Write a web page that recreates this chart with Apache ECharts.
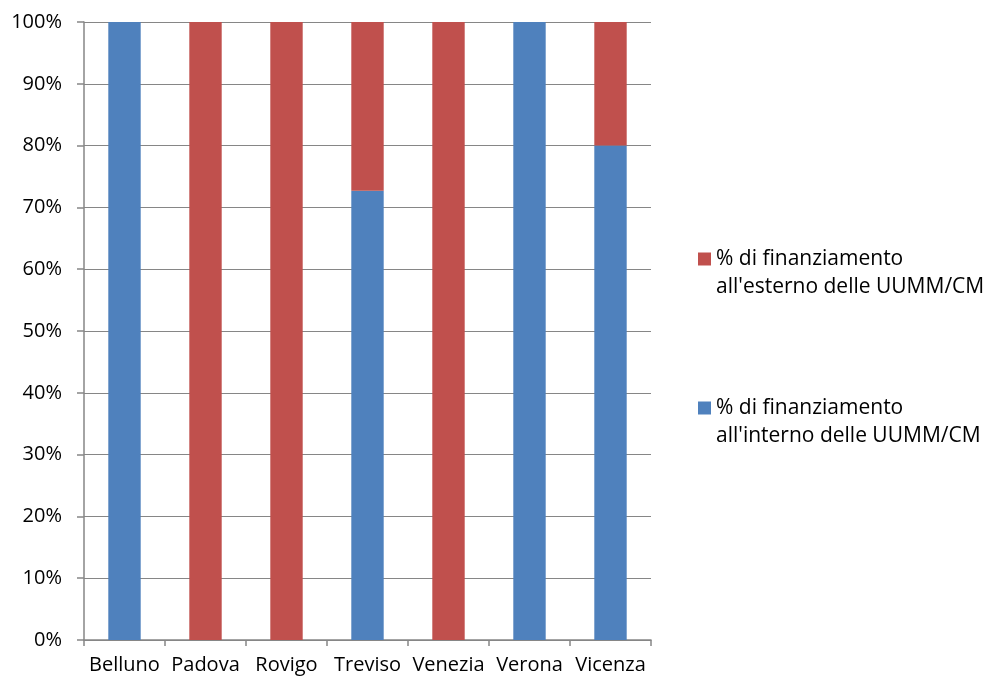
<!DOCTYPE html>
<html>
<head>
<meta charset="utf-8">
<script src="https://cdn.jsdelivr.net/npm/echarts@6/dist/echarts.min.js"></script>
<style>html,body{margin:0;padding:0;background:#fff}#c{width:990px;height:680px}</style>
</head>
<body>
<div id="c"></div>
<script>
const categories = ['Belluno', 'Padova', 'Rovigo', 'Treviso', 'Venezia', 'Verona', 'Vicenza'];
const interno = [100, 0, 0, 72.7, 0, 100, 80];
const esterno = [0, 100, 100, 27.3, 100, 0, 20];
const nameInterno = "% di finanziamento\nall'interno delle UUMM/CM";
const nameEsterno = "% di finanziamento\nall'esterno delle UUMM/CM";

const FONT = '"Open Sans", sans-serif';
const chart = echarts.init(document.getElementById('c'));
chart.setOption({
  animation: false,
  textStyle: { fontFamily: FONT },
  grid: { left: 84, right: 339, top: 22, bottom: 40, containLabel: false },
  legend: {
    orient: 'vertical',
    left: 693,
    top: 212,
    itemWidth: 13,
    itemHeight: 13,
    itemGap: 65,
    icon: 'rect',
    data: [nameEsterno, nameInterno],
    formatter: function (n) { return '\n' + n; },
    textStyle: { fontFamily: FONT, fontSize: 21, color: '#000', lineHeight: 28 }
  },
  xAxis: {
    type: 'category',
    data: categories,
    axisLine: { lineStyle: { color: '#868686', width: 1.5 } },
    axisTick: { show: true, length: 6, lineStyle: { color: '#868686', width: 1.5 } },
    axisLabel: { color: '#000', fontSize: 20, fontFamily: FONT, margin: 15, interval: 0 }
  },
  yAxis: {
    type: 'value',
    min: 0, max: 100, interval: 10,
    axisLine: { show: true, lineStyle: { color: '#868686', width: 1.5 } },
    axisTick: { show: true, length: 7, lineStyle: { color: '#868686', width: 1.5 } },
    splitLine: { lineStyle: { color: '#868686', width: 1.2 } },
    axisLabel: { color: '#000', fontSize: 20, fontFamily: FONT, margin: 22, formatter: '{value}%' }
  },
  series: [
    { name: nameInterno, type: 'bar', stack: 't', data: interno, barWidth: '40%', itemStyle: { color: '#4F81BD' } },
    { name: nameEsterno, type: 'bar', stack: 't', data: esterno, barWidth: '40%', itemStyle: { color: '#C0504D' } }
  ]
});
</script>
</body>
</html>
